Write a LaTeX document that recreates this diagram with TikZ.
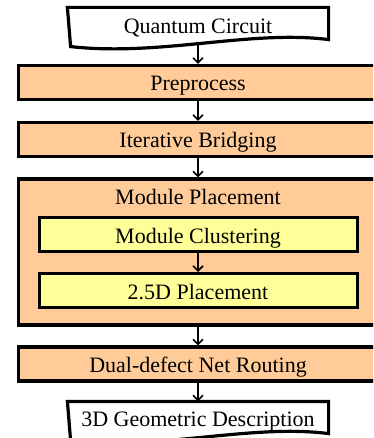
\documentclass[tikz,border=0pt]{standalone}
\usepackage{fontspec}
\setmainfont{Liberation Serif}
\usetikzlibrary{arrows.meta,calc}
\definecolor{peach}{HTML}{FFCC99}
\definecolor{lyellow}{HTML}{FFFF99}
\begin{document}
\begin{tikzpicture}[x=1pt,y=-1pt,
  every node/.style={font=\fontsize{22}{26}\selectfont, inner sep=0pt, text height=19pt, text depth=2pt},
  stage/.style={draw, line width=3.2pt, fill=peach, minimum width=359pt, minimum height=34pt},
  substage/.style={draw, line width=3pt, fill=lyellow, minimum width=318pt, minimum height=34pt},
  docnode/.style={minimum width=258pt, outer sep=1.6pt},
  docshape/.style={draw, line width=3.2pt, fill=white, line join=miter},
  arr/.style={line width=1.6pt, -{Straight Barb[length=5pt,width=10pt]}}]
\useasboundingbox (0,0) rectangle (373,438);
\clip (0,0) rectangle (373,438);
% Quantum Circuit (document shape)
\node[docnode, minimum height=33pt] (qc) at (198,25.5) {};
\draw[docshape] (qc.north west) -- (qc.north east) -- ($(qc.south east)+(0,-4)$)
  coordinate (qcrb)
  .. controls ($(qcrb)+(-78,-10)$) and ($(qcrb)+(-168,17)$) .. ($(qcrb)+(-258,7)$) -- cycle;
\node (qct) at (qc) {Quantum Circuit};
% stages
\node[stage] (pre) at (198,82.5) {Preprocess};
\node[stage] (ib) at (198,139.5) {Iterative Bridging};
\node[stage, minimum height=146pt] (mp) at (198,252) {};
\node[anchor=base] (mpt) at (198,204.5) {Module Placement};
\node[substage] (mc) at (198,234.5) {Module Clustering};
\node[substage] (p25) at (198,290.5) {2.5D Placement};
\node[stage] (dn) at (198,364) {Dual-defect Net Routing};
% 3D Geometric Description (document shape)
\node[docnode, minimum height=29pt] (dd) at (198,417.5) {};
\draw[docshape] (dd.north west) -- (dd.north east) -- ($(dd.south east)+(0,0)$)
  coordinate (ddrb)
  .. controls ($(ddrb)+(-78,-10)$) and ($(ddrb)+(-168,17)$) .. ($(ddrb)+(-258,7)$) -- cycle;
\node (ddt) at (dd) {3D Geometric Description};
% connectors
\draw[arr] (qc.south) -- (pre.north);
\draw[arr] (pre.south) -- (ib.north);
\draw[arr] (ib.south) -- (mp.north);
\draw[arr] (mc.south) -- (p25.north);
\draw[arr] (mp.south) -- (dn.north);
\draw[arr] (dn.south) -- (dd.north);
\end{tikzpicture}
\end{document}
